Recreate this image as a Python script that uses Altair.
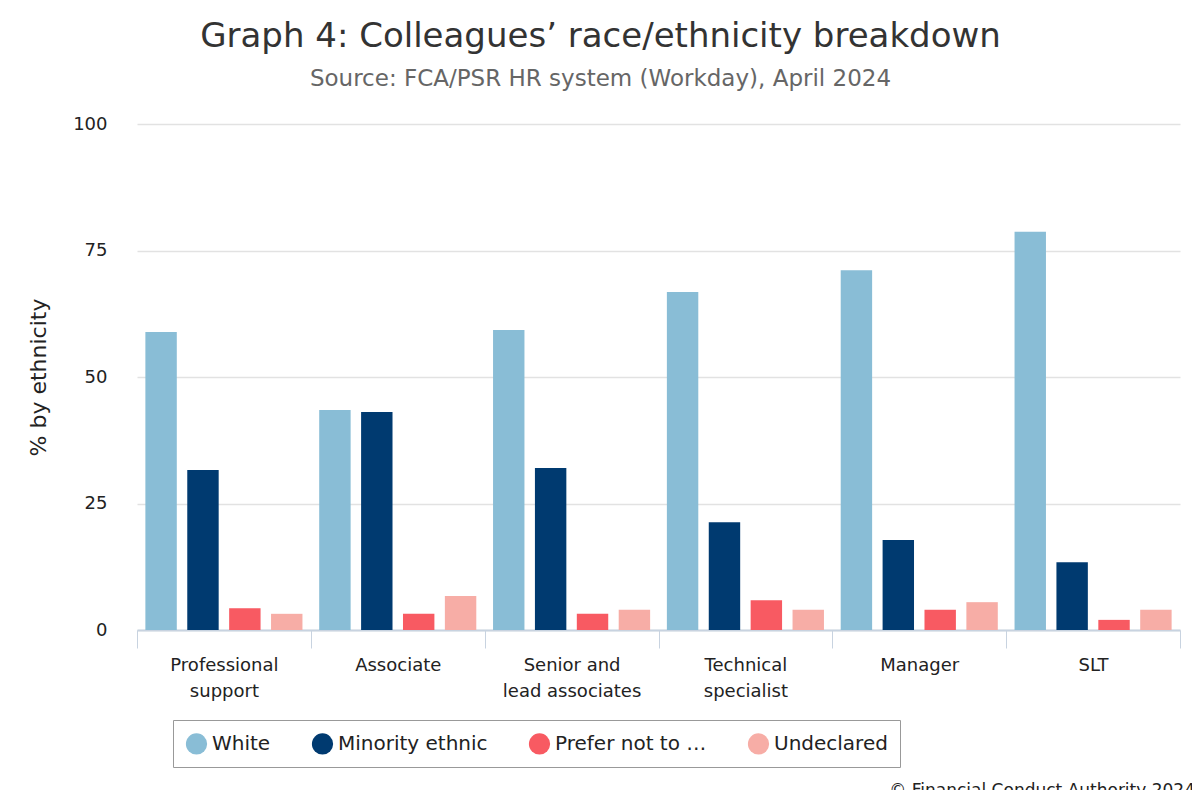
import altair as alt
import pandas as pd

grades = ["Professional\nsupport", "Associate", "Senior and\nlead associates",
          "Technical\nspecialist", "Manager", "SLT"]
groups = ["White", "Minority ethnic", "Prefer not to say", "Undeclared"]
white = [58.9, 43.5, 59.3, 66.8, 71.1, 78.7]
minority = [31.6, 43.1, 32.0, 21.3, 17.8, 13.4]
prefer_not = [4.3, 3.2, 3.2, 5.9, 4.0, 2.0]
undeclared = [3.2, 6.7, 4.0, 4.0, 5.5, 4.0]
colors = ["#89bdd6", "#003a70", "#f85a62", "#f7ada6"]

rows = []
for name, vals in zip(groups, [white, minority, prefer_not, undeclared]):
    for g, v in zip(grades, vals):
        rows.append({"grade": g, "group": name, "value": v})
df = pd.DataFrame(rows)

W, H = 1043, 506
FONT = "DejaVu Sans"

bars = alt.Chart(df).mark_bar().encode(
    x=alt.X("grade:N", sort=grades, title=None,
            scale=alt.Scale(paddingInner=0, paddingOuter=0),
            axis=alt.Axis(labelExpr="split(datum.label, '\\n')", labelAngle=0,
                          labelFontSize=18, labelColor="#222", labelPadding=8,
                          tickBand="extent", tickSize=18, tickColor="#c8d3e0",
                          domainColor="#c8d3e0", domainWidth=2, labelLineHeight=26)),
    xOffset=alt.XOffset("group:N", sort=groups,
                        scale=alt.Scale(paddingInner=0.25, paddingOuter=0.2)),
    y=alt.Y("value:Q", title="% by ethnicity",
            scale=alt.Scale(domain=[0, 100]),
            axis=alt.Axis(values=[0, 25, 50, 75, 100], ticks=False, domain=False,
                          labelFontSize=18, labelColor="#222", labelPadding=30,
                          titleFontSize=22, titleFontWeight="normal", titleColor="#222",
                          titlePadding=22, gridColor="#e2e2e2", gridWidth=1.5)),
    color=alt.Color("group:N", sort=groups, title=None,
                    scale=alt.Scale(domain=groups, range=colors),
                    legend=alt.Legend(orient="none", legendX=36, legendY=596,
                                      direction="horizontal", symbolType="circle",
                                      symbolSize=450, labelFontSize=20, labelColor="#222",
                                      columnPadding=40, symbolOffset=0,
                                      padding=12, strokeColor="#999", fillColor="white")),
)

copyright = alt.Chart(pd.DataFrame({"t": ["© Financial Conduct Authority 2024"]})).mark_text(
    align="right", baseline="bottom", fontSize=17, font=FONT, color="#222"
).encode(text="t:N", x=alt.value(1058), y=alt.value(676))

chart = (bars + copyright).properties(
    width=W, height=H,
    autosize=alt.AutoSizeParams(type="none"),
    padding={"left": 129, "top": 116, "right": 12, "bottom": 160},
    title=alt.TitleParams("Graph 4: Colleagues’ race/ethnicity breakdown",
                          subtitle="Source: FCA/PSR HR system (Workday), April 2024",
                          fontSize=34, fontWeight="normal", color="#333",
                          subtitleFontSize=23, subtitleColor="#666", subtitlePadding=14,
                          anchor="middle", dx=-58, offset=24),
).configure(font=FONT).configure_view(stroke=None)

chart.save("out.html", embed_options={"renderer": "svg", "actions": False})
